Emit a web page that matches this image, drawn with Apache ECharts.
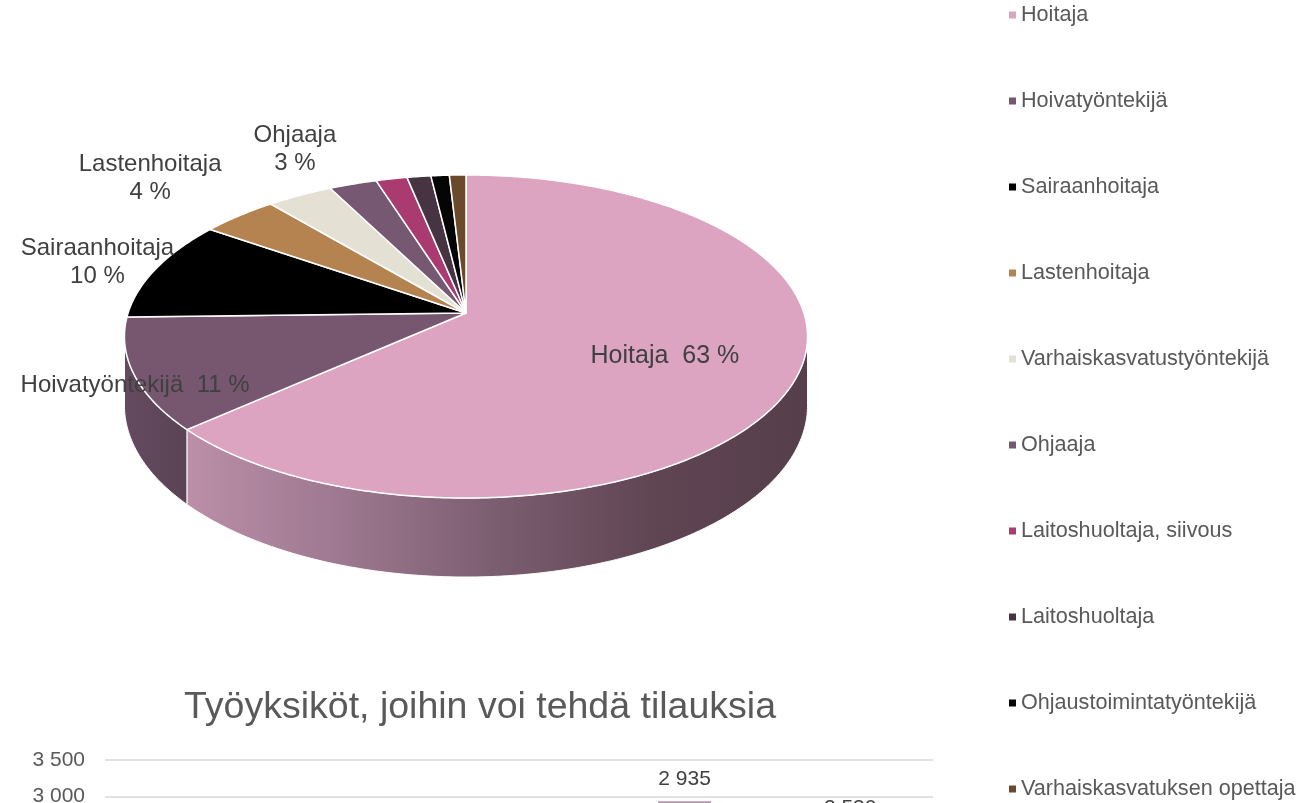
<!DOCTYPE html>
<html><head><meta charset="utf-8">
<script src="https://cdn.jsdelivr.net/npm/echarts@6/dist/echarts.min.js"></script>
<style>html,body{margin:0;padding:0;overflow:hidden;background:#fff;width:1314px;height:803px}#c{width:1314px;height:1100px}</style>
</head><body><div id="c"></div>
<script>
// ---- data ----
const categories = ['Hoitaja','Hoivatyöntekijä','Sairaanhoitaja','Lastenhoitaja','Varhaiskasvatustyöntekijä','Ohjaaja','Laitoshuoltaja, siivous','Laitoshuoltaja','Ohjaustoimintatyöntekijä','Varhaiskasvatuksen opettaja'];
const shares = [63.4, 11.2, 10.1, 4.2, 3.6, 2.6, 1.7, 1.3, 1.0, 0.9];
const barTitle = 'Työyksiköt, joihin voi tehdä tilauksia';
const barCategories = ['2015','2016','2017','2018','2019'];
const barValues = [1650, 1980, 2310, 2935, 2530];
const yMin = 0, yMax = 3500, yStep = 500;

// ---- style ----
const sliceColors = ['#dca4c1','#77566f','#000000','#b5834f','#e4e1d4','#775872','#a93b70','#473443','#050505','#6b4a2b'];
const FONT = "'Liberation Sans', Arial, sans-serif";
const NARROW = "'Liberation Sans Narrow', 'Liberation Sans', Arial, sans-serif";
// label layout per slice: [radius factor, dx, dy, stacked, fontSize]
const labelLayout = [[0.6, 7, 3, false, 25],[1, 1, 11, false, 24],[1, -58, -7, true, 24],[1, -89, -37, true, 24],null,[1, -58, -35, true, 24],null,null,null,null];

// pie geometry (perspective ellipse)
const CX = 466, CY = 313, RA = 337.9, RB = 158.1, K = 0.1455, DEPTH = 67.5;
const VIS_R = 90 + Math.asin(K) * 180 / Math.PI, VIS_L = 270 - Math.asin(K) * 180 / Math.PI;
function proj(theta, r) {
  const t = theta * Math.PI / 180, u = r * Math.sin(t), v = r * Math.cos(t), d = 1 + K * v;
  return [CX + RA * u / d, CY - RB * v / d, d];
}
function arc(a0, a1) {
  const n = Math.max(2, Math.ceil((a1 - a0) / 0.5));
  const pts = [];
  for (let j = 0; j <= n; j++) pts.push(proj(a0 + (a1 - a0) * j / n, 1));
  return pts;
}
const total = shares.reduce((s, v) => s + v, 0);
const starts = [];
shares.reduce((acc, v, i) => { starts[i] = acc; return acc + v; }, 0);

function wallFill(i) {
  if (i === 0) return new echarts.graphic.LinearGradient(0, 0, 1, 0, [
    {offset: 0, color: '#bb8fa8'}, {offset: 0.25, color: '#9d7890'}, {offset: 0.5, color: '#7b5d70'},
    {offset: 0.75, color: '#604553'}, {offset: 1, color: '#563e4b'}]);
  if (i === 1) return new echarts.graphic.LinearGradient(0, 0, 1, 0, [
    {offset: 0, color: '#644b5f'}, {offset: 1, color: '#5b4356'}]);
  return sliceColors[i];
}

function renderSlice(params, api) {
  const i = params.seriesIndex;
  const a0 = api.value(1) / total * 360, a1 = api.value(2) / total * 360;
  const children = [];
  const w0 = Math.max(a0, VIS_R), w1 = Math.min(a1, VIS_L);
  if (w1 > w0) {
    const topEdge = arc(w0, w1);
    const bottomEdge = topEdge.map(p => [p[0], p[1] + DEPTH / p[2]]).reverse();
    children.push({type: 'polygon', z2: 1,
      shape: {points: topEdge.map(p => [p[0], p[1]]).concat(bottomEdge)},
      style: {fill: wallFill(i), stroke: '#ffffff', lineWidth: 1}});
  }
  const c = proj(0, 0);
  const pts = [[c[0], c[1]]].concat(arc(a0, a1).map(p => [p[0], p[1]]));
  children.push({type: 'polygon', z2: 2, shape: {points: pts},
    style: {fill: sliceColors[i], stroke: '#ffffff', lineWidth: 1.5, lineJoin: 'round'}});
  const lay = labelLayout[i];
  if (lay) {
    const p = proj((a0 + a1) / 2, lay[0]);
    const pct = Math.round(api.value(0) / total * 100);
    const name = categories[i];
    const text = lay[3] ? name + '\n' + pct + ' %' : name + '  ' + pct + ' %';
    children.push({type: 'text', z2: 10, style: {text: text, x: p[0] + lay[1], y: p[1] + lay[2],
      align: 'center', verticalAlign: 'middle', fill: '#404040', fontSize: lay[4], fontFamily: FONT, lineHeight: 28}});
  }
  return {type: 'group', children: children};
}

const fmt = v => String(v).replace(/\B(?=(\d{3})+(?!\d))/g, ' ');

const pieSeries = categories.map((name, i) => ({
  type: 'custom', name: name, coordinateSystem: 'none',
  itemStyle: {color: sliceColors[i]},
  renderItem: renderSlice,
  data: [[shares[i], starts[i], starts[i] + shares[i]]]
}));

const chart = echarts.init(document.getElementById('c'), null, {renderer: 'canvas'});
chart.setOption({
  animation: false,
  backgroundColor: '#ffffff',
  title: {text: barTitle, left: 480, textAlign: 'center', top: 688, padding: 0,
    textStyle: {fontSize: 37.5, fontWeight: 'normal', color: '#595959', fontFamily: FONT, lineHeight: 40}},
  legend: {data: categories, orient: 'vertical', left: 1009, top: 3, padding: 0,
    icon: 'rect', itemWidth: 7, itemHeight: 7, itemGap: 62, selectedMode: false,
    textStyle: {fontSize: 21.6, color: '#595959', fontFamily: FONT, lineHeight: 24}},
  grid: {left: 105, right: 381, top: 760, bottom: 84},
  xAxis: {type: 'category', data: barCategories,
    axisLine: {lineStyle: {color: '#d9d9d9'}}, axisTick: {show: false},
    axisLabel: {fontSize: 21, color: '#595959', fontFamily: NARROW}},
  yAxis: {type: 'value', min: yMin, max: yMax, interval: yStep,
    axisLine: {show: false}, axisTick: {show: false},
    axisLabel: {fontSize: 21, color: '#595959', fontFamily: NARROW, margin: 20, formatter: fmt},
    splitLine: {lineStyle: {color: '#d9d9d9', width: 1.5}}},
  series: pieSeries.concat([{
    type: 'bar', name: barTitle, data: barValues, barWidth: '32%',
    itemStyle: {color: '#b596ad'},
    label: {show: true, position: 'top', distance: 12, fontSize: 21, color: '#404040', fontFamily: NARROW, formatter: p => fmt(p.value)}
  }])
});
</script></body></html>
